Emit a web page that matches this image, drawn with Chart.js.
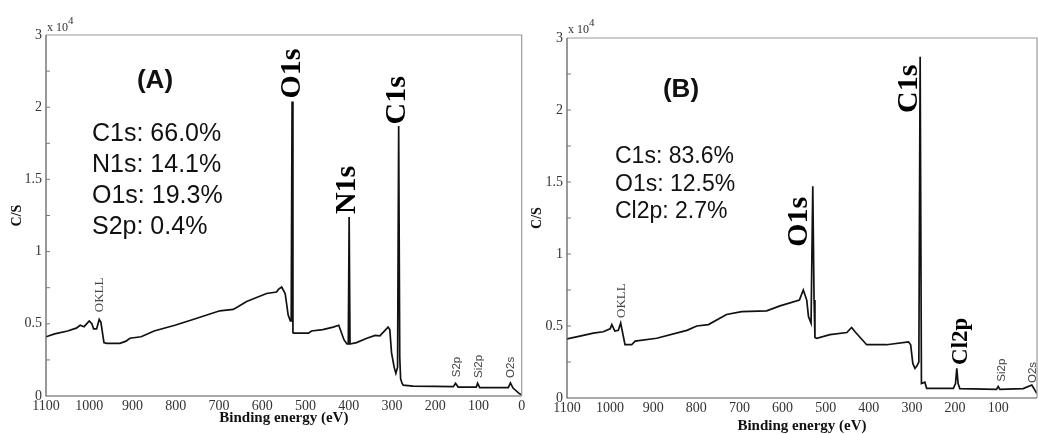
<!DOCTYPE html>
<html>
<head>
<meta charset="utf-8">
<script src="https://cdn.jsdelivr.net/npm/chart.js@4"></script>
<style>
  html, body { margin: 0; padding: 0; background: #ffffff; }
  body { width: 1038px; height: 434px; position: relative; overflow: hidden; }
  canvas { position: absolute; top: 0; }
  #chartA { left: 0; }
  #chartB { left: 528px; }
</style>
</head>
<body>
<canvas id="chartA" width="528" height="434"></canvas>
<canvas id="chartB" width="510" height="434"></canvas>
<script>
// Panel (A) survey spectrum: binding energy (eV) and counts (x 10^4 C/S)
const energyA = [1100, 1080, 1050, 1030, 1021, 1012, 1000, 994, 990, 983, 977, 973, 966, 960, 929, 915, 906, 880, 850, 802, 760, 698, 667, 636, 590, 567, 562, 555, 547, 540, 535, 533, 531, 529, 528, 493, 486, 460, 436, 423, 411, 404, 401, 399, 397, 382, 358, 339, 328, 309, 305, 301, 295, 291, 287, 284.5, 282, 280, 277, 274, 251, 200, 158, 153, 147, 105, 102, 97, 31, 26, 20, 5, 0];
const countsA = [0.41, 0.43, 0.45, 0.47, 0.49, 0.48, 0.52, 0.50, 0.465, 0.465, 0.53, 0.51, 0.37, 0.365, 0.365, 0.38, 0.40, 0.41, 0.45, 0.49, 0.53, 0.59, 0.60, 0.655, 0.71, 0.72, 0.74, 0.755, 0.71, 0.56, 0.52, 0.52, 2.04, 0.44, 0.435, 0.435, 0.45, 0.46, 0.477, 0.49, 0.39, 0.36, 0.36, 1.24, 0.36, 0.37, 0.40, 0.42, 0.417, 0.477, 0.46, 0.30, 0.20, 0.157, 0.20, 1.87, 0.27, 0.12, 0.09, 0.075, 0.068, 0.066, 0.065, 0.088, 0.062, 0.062, 0.088, 0.058, 0.058, 0.09, 0.055, 0.015, 0.01];

// Panel (B) survey spectrum
const energyB = [1100, 1070, 1039, 1016, 1000, 996, 989, 981, 975.5, 965.5, 950, 942, 892, 822, 799, 772, 730, 695, 637, 606, 561, 552, 544, 540, 534, 532, 530, 527, 525, 521, 490, 451, 440, 432, 405, 359, 308, 303, 298, 293, 289, 284, 281, 278, 270, 266, 204, 199, 196, 193, 189, 104, 100, 96, 42, 22, 15, 10];
const countsB = [0.41, 0.43, 0.45, 0.46, 0.48, 0.51, 0.465, 0.47, 0.52, 0.37, 0.37, 0.395, 0.415, 0.47, 0.50, 0.51, 0.58, 0.60, 0.605, 0.64, 0.68, 0.75, 0.68, 0.565, 0.52, 0.52, 1.47, 0.68, 0.42, 0.415, 0.44, 0.455, 0.49, 0.46, 0.37, 0.37, 0.39, 0.37, 0.24, 0.206, 0.22, 0.25, 2.37, 0.10, 0.11, 0.067, 0.067, 0.10, 0.206, 0.10, 0.065, 0.06, 0.08, 0.06, 0.065, 0.09, 0.055, 0.03];

// tick values and labels
const xTicks = [1100, 1000, 900, 800, 700, 600, 500, 400, 300, 200, 100, 0];
const yTickValues = [0, 0.5, 1, 1.5, 2, 2.5];
const yTickLabels = ['0', '0.5', '1', '1.5', '2', '3'];
const yMinorTicks = [0.25, 0.5, 0.75, 1, 1.25, 1.5, 1.75, 2, 2.25];

// composition texts
const compA = ['C1s: 66.0%', 'N1s: 14.1%', 'O1s: 19.3%', 'S2p: 0.4%'];
const compB = ['C1s: 83.6%', 'O1s: 12.5%', 'Cl2p: 2.7%'];

// peak labels, anchored in data units (energy, counts) at the start of the rotated text
const peaksA = [
  { text: 'O1s', e: 531, v: 2.06, big: true },
  { text: 'C1s', e: 287, v: 1.88, big: true },
  { text: 'N1s', e: 403, v: 1.26, big: true },
  { text: 'OKLL', e: 975, v: 0.58, serif: true },
  { text: 'S2p', e: 151, v: 0.13 },
  { text: 'Si2p', e: 99, v: 0.125 },
  { text: 'O2s', e: 25, v: 0.125 }
];
const peaksB = [
  { text: 'C1s', e: 307, v: 1.98, big: true },
  { text: 'O1s', e: 562, v: 1.05, big: true },
  { text: 'Cl2p', e: 185, v: 0.23, mid: true },
  { text: 'OKLL', e: 972.5, v: 0.556, serif: true },
  { text: 'Si2p', e: 92, v: 0.113 },
  { text: 'O2s', e: 19, v: 0.104 }
];

const SERIF = '"Liberation Serif", "DejaVu Serif", serif';
const SANS = '"Liberation Sans", Arial, sans-serif';

function panelPlugin(p) {
  return {
    id: 'panelDecor',
    afterDraw(chart) {
      const ctx = chart.ctx;
      const a = chart.chartArea;
      const xs = chart.scales.x, ys = chart.scales.y;
      ctx.save();

      // frame: top/right grey, left/bottom dark
      ctx.lineWidth = 1.2;
      ctx.strokeStyle = '#9a9a9a';
      ctx.beginPath();
      ctx.moveTo(a.left, a.top); ctx.lineTo(a.right, a.top); ctx.lineTo(a.right, a.bottom);
      ctx.stroke();
      ctx.strokeStyle = '#555';
      ctx.beginPath();
      ctx.moveTo(a.left, a.top); ctx.lineTo(a.left, a.bottom); ctx.lineTo(a.right, a.bottom);
      ctx.stroke();

      // inward minor ticks on the left axis
      ctx.lineWidth = 1;
      ctx.strokeStyle = '#777';
      yMinorTicks.forEach(v => {
        const y = ys.getPixelForValue(v);
        ctx.beginPath();
        ctx.moveTo(a.left, y); ctx.lineTo(a.left + 4, y);
        ctx.stroke();
      });

      // x 10^4 multiplier
      ctx.fillStyle = '#333';
      ctx.textAlign = 'left';
      ctx.textBaseline = 'alphabetic';
      ctx.font = '12px ' + SERIF;
      ctx.fillText('x 10', a.left + 1, a.top - p.expDy);
      ctx.font = '11px ' + SERIF;
      ctx.fillText('4', a.left + 22, a.top - p.expDy - 7);

      // panel letter
      ctx.fillStyle = '#111';
      ctx.font = 'bold 26px ' + SANS;
      ctx.textAlign = 'center';
      ctx.textBaseline = 'middle';
      ctx.fillText(p.letter, a.left + p.letterDx, a.top + p.letterDy);

      // composition
      ctx.font = p.compFont + 'px ' + SANS;
      ctx.textAlign = 'left';
      ctx.textBaseline = 'alphabetic';
      p.comp.forEach((t, i) => {
        ctx.fillText(t, a.left + p.compDx, a.top + p.compDy + i * p.compStep);
      });

      // rotated peak labels
      p.peaks.forEach(pk => {
        const x = xs.getPixelForValue(pk.e);
        const y = ys.getPixelForValue(pk.v);
        ctx.save();
        ctx.translate(x, y);
        ctx.rotate(-Math.PI / 2);
        if (pk.big) {
          ctx.font = 'bold 30px ' + SERIF;
          ctx.fillStyle = '#000';
        } else if (pk.mid) {
          ctx.font = 'bold 23px ' + SERIF;
          ctx.fillStyle = '#000';
        } else if (pk.serif) {
          ctx.font = '13px ' + SERIF;
          ctx.fillStyle = '#444';
        } else {
          ctx.font = '11.5px ' + SANS;
          ctx.fillStyle = '#444';
        }
        ctx.textAlign = 'left';
        ctx.textBaseline = 'middle';
        ctx.fillText(pk.text, 0, 0);
        ctx.restore();
      });

      ctx.restore();
    }
  };
}

function makePanel(id, energy, counts, p) {
  const ctx = document.getElementById(id).getContext('2d');
  return new Chart(ctx, {
    type: 'line',
    data: {
      datasets: [{
        data: energy.map((e, i) => ({ x: e, y: counts[i] })),
        borderColor: '#111',
        borderWidth: 1.7,
        pointRadius: 0,
        tension: 0,
        fill: false
      }]
    },
    options: {
      responsive: false,
      animation: false,
      devicePixelRatio: 1,
      layout: { padding: { top: p.top, right: p.right, bottom: 0, left: 0 } },
      plugins: { legend: { display: false }, tooltip: { enabled: false } },
      scales: {
        x: {
          type: 'linear',
          reverse: true,
          min: p.xMin,
          max: 1100,
          afterBuildTicks: s => { s.ticks = xTicks.filter(v => v >= p.xMin).map(v => ({ value: v })); },
          afterFit: s => { s.height = p.xHeight; },
          grid: { display: false, drawTicks: false },
          border: { display: false },
          ticks: {
            padding: 2,
            maxRotation: 0,
            autoSkip: false,
            color: '#333',
            font: { family: SERIF, size: 14 },
            callback: v => String(v)
          },
          title: {
            display: true,
            text: 'Binding energy (eV)',
            color: '#111',
            font: { family: SERIF, size: 15, weight: 'bold', lineHeight: 1 },
            padding: { top: 0, bottom: p.xTitlePad }
          }
        },
        y: {
          type: 'linear',
          min: 0,
          max: 2.5,
          afterBuildTicks: s => { s.ticks = yTickValues.map(v => ({ value: v })); },
          afterFit: s => { s.width = p.yWidth; },
          grid: { display: false, drawTicks: false },
          border: { display: false },
          ticks: {
            padding: 4,
            color: '#333',
            font: { family: SERIF, size: 14 },
            callback: (v, i) => yTickLabels[i]
          },
          title: {
            display: true,
            text: 'C/S',
            color: '#111',
            font: { family: SERIF, size: 14, weight: 'bold', lineHeight: 1.2 },
            padding: { top: p.yTitlePad, bottom: 0 }
          }
        }
      }
    },
    plugins: [panelPlugin(p)]
  });
}

makePanel('chartA', energyA, countsA, {
  top: 35, right: 6.3, xMin: 0, xHeight: 38, yWidth: 46,
  xTitlePad: 8, yTitlePad: 9, expDy: 4,
  letter: '(A)', letterDx: 109, letterDy: 46,
  comp: compA, compFont: 25, compDx: 46, compDy: 106, compStep: 31,
  peaks: peaksA
});

makePanel('chartB', energyB, countsB, {
  top: 38, right: 1, xMin: 10, xHeight: 36, yWidth: 39,
  xTitlePad: 0, yTitlePad: 1, expDy: 5,
  letter: '(B)', letterDx: 114, letterDy: 52,
  comp: compB, compFont: 23, compDx: 48, compDy: 125, compStep: 27.5,
  peaks: peaksB
});
</script>
</body>
</html>
